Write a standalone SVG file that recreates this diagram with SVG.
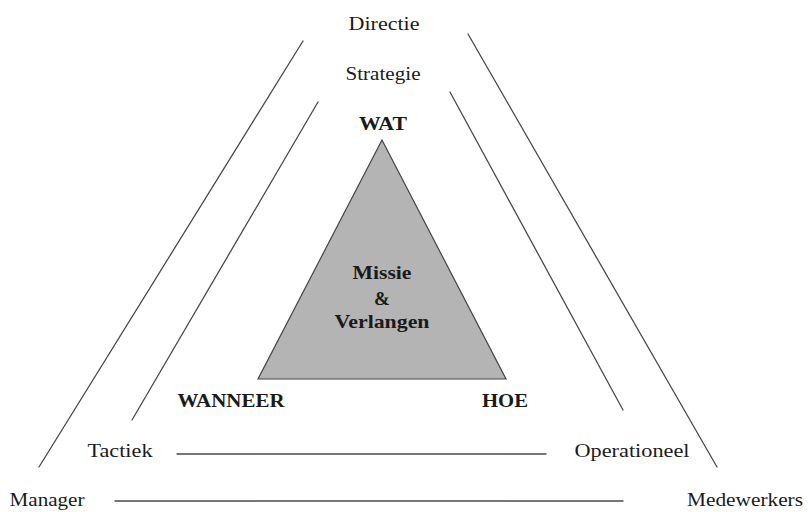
<svg xmlns="http://www.w3.org/2000/svg" width="808" height="512" viewBox="0 0 808 512">
<style>
.bg{fill:#ffffff}
.ln{stroke:#4a4a4a;stroke-width:1.3;fill:none;stroke-linecap:round}
.t{font-family:"Liberation Serif","Times New Roman",serif;font-size:18px;fill:#1a1a1a;text-anchor:middle}
.b{font-family:"Liberation Serif","Times New Roman",serif;font-size:19px;font-weight:bold;fill:#1a1a1a;text-anchor:middle}
.tri{fill:#b4b4b4;stroke:#444;stroke-width:1.2}
</style>
<rect class="bg" x="0" y="0" width="808" height="512"/>
<g id="connectors">
<line class="ln" x1="303" y1="41" x2="39" y2="467"/>
<line class="ln" x1="318" y1="102" x2="132" y2="420"/>
<line class="ln" x1="468" y1="34" x2="717" y2="467"/>
<line class="ln" x1="450" y1="92" x2="623" y2="410"/>
<line class="ln" x1="177" y1="454" x2="546" y2="454"/>
<line class="ln" x1="115" y1="501" x2="623" y2="501"/>
</g>
<g id="core">
<polygon class="tri" points="382,140 258,379 506,379"/>
<text class="b" x="382" y="279" textLength="59" lengthAdjust="spacingAndGlyphs">Missie</text>
<text class="b" x="382" y="305">&amp;</text>
<text class="b" x="382" y="328" textLength="95" lengthAdjust="spacingAndGlyphs">Verlangen</text>
</g>
<g id="wat"><text class="b" x="383" y="130" textLength="48" lengthAdjust="spacingAndGlyphs">WAT</text></g>
<g id="wanneer"><text class="b" x="231" y="407" textLength="107" lengthAdjust="spacingAndGlyphs">WANNEER</text></g>
<g id="hoe"><text class="b" x="505" y="407" textLength="46" lengthAdjust="spacingAndGlyphs">HOE</text></g>
<g id="directie"><text class="t" x="384" y="30" textLength="71" lengthAdjust="spacingAndGlyphs">Directie</text></g>
<g id="strategie"><text class="t" x="383" y="80" textLength="75" lengthAdjust="spacingAndGlyphs">Strategie</text></g>
<g id="tactiek"><text class="t" x="120" y="457" textLength="65" lengthAdjust="spacingAndGlyphs">Tactiek</text></g>
<g id="operationeel"><text class="t" x="632" y="457" textLength="115" lengthAdjust="spacingAndGlyphs">Operationeel</text></g>
<g id="manager"><text class="t" x="47" y="506" textLength="75" lengthAdjust="spacingAndGlyphs">Manager</text></g>
<g id="medewerkers"><text class="t" x="745" y="506" textLength="116" lengthAdjust="spacingAndGlyphs">Medewerkers</text></g>
</svg>
